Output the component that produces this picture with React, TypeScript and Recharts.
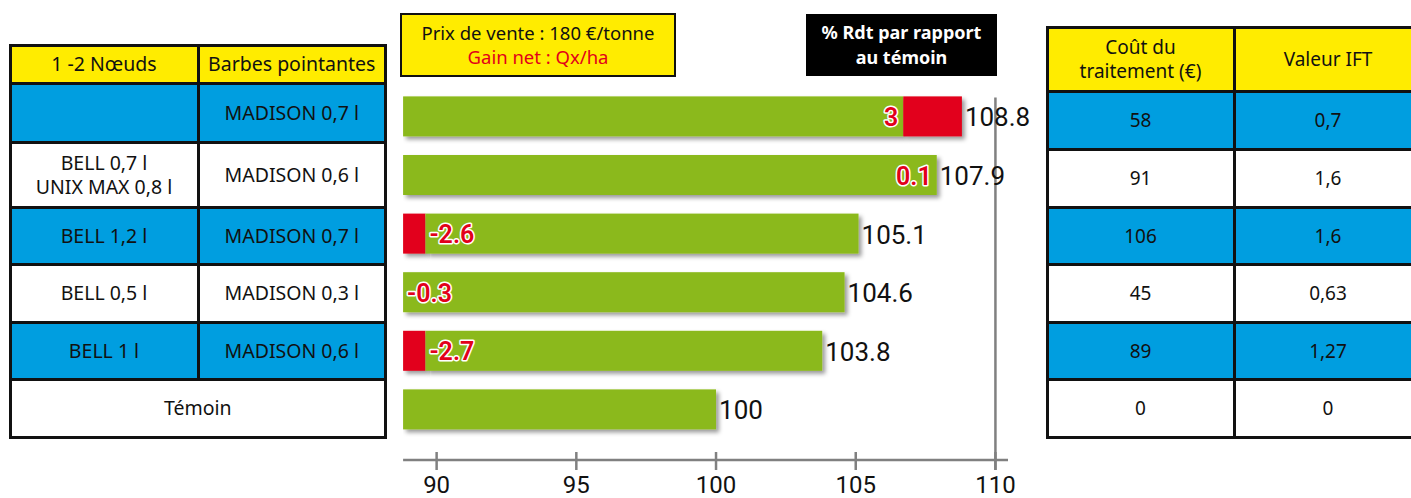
import React from "react";
import { BarChart, Bar, XAxis, YAxis, ReferenceLine, LabelList } from "recharts";

// Left table: treatments
const noeuds = ["", "BELL 0,7 l\nUNIX MAX 0,8 l", "BELL 1,2 l", "BELL 0,5 l", "BELL 1 l", "Témoin"];
const barbes = ["MADISON 0,7 l", "MADISON 0,6 l", "MADISON 0,7 l", "MADISON 0,3 l", "MADISON 0,6 l", ""];

// % yield vs control, net gain (Qx/ha), width of the red part (in % units)
const rdt = [108.8, 107.9, 105.1, 104.6, 103.8, 100];
const gainNet: (number | null)[] = [3, 0.1, -2.6, -0.3, -2.7, null];
const redWidth = [2.1, 0, 0.8, 0, 0.8, 0];
const barStart = 88.8;

// Right table
const cout = ["58", "91", "106", "45", "89", "0"];
const ift = ["0,7", "1,6", "1,6", "0,63", "1,27", "0"];

const xTicks = [90, 95, 100, 105, 110];

const GREEN = "#8bb91a";
const RED = "#e2001a";
const YELLOW = "#ffec00";
const BLUE = "#009ee0";
const AXIS_GRAY = "#808080";
const CHART_FONT = "'Liberation Sans Narrow', 'Roboto', sans-serif";
const TABLE_FONT = "'Noto Sans', 'Open Sans', sans-serif";

const chartData = rdt.map((v, i) => {
  const g = gainNet[i];
  const red = redWidth[i];
  return {
    name: `${noeuds[i]} ${barbes[i]}`.trim() || `row${i}`,
    pad: barStart,
    redLead: g !== null && g < 0 ? red : 0,
    green: v - barStart - red,
    redTail: g !== null && g > 0 ? red : 0,
    rdtLabel: String(v),
    gain: g,
  };
});

function ShadowRect(props: any) {
  const { x, y, width, height, fill } = props;
  if (!width || width <= 0) return null;
  return <rect x={x} y={y} width={width} height={height} fill={fill} filter="url(#barShadow)" />;
}

function AxisTick(props: any) {
  const { x, y, payload } = props;
  return (
    <g>
      <line x1={x} x2={x} y1={y - 8} y2={y + 10} stroke={AXIS_GRAY} strokeWidth={2.5} />
      <text x={x} y={y + 25} textAnchor="middle" dominantBaseline="central" fontSize={24} fontFamily={CHART_FONT} fill="#111">
        {payload.value}
      </text>
    </g>
  );
}

function ValueLabel(props: any) {
  const { x, y, width, height, value } = props;
  return (
    <text x={x + width + 3} y={y + height / 2 + 1} dominantBaseline="central" fontSize={26} fontFamily={CHART_FONT} fill="#111">
      {value}
    </text>
  );
}

function GainLabel(props: any) {
  const { x, y, width, height, index } = props;
  const g = chartData[index].gain;
  if (g === null || g === undefined) return null;
  const pos = g > 0;
  return (
    <text
      x={pos ? x + width - 5 : x + 4}
      y={y + height / 2 + 1}
      textAnchor={pos ? "end" : "start"}
      dominantBaseline="central"
      fontSize={25}
      fontWeight={600}
      fontFamily={CHART_FONT}
      fill={RED}
      stroke="#fff"
      strokeWidth={3}
      paintOrder="stroke"
      strokeLinejoin="round"
    >
      {String(g)}
    </text>
  );
}

type Cell = { x0: number; x1: number; y0: number; y1: number; text: string; bg: string };

function Grid({ cells, fontSize }: { cells: Cell[]; fontSize: number }) {
  return (
    <>
      {cells.map((c, i) => (
        <div
          key={i}
          style={{
            position: "absolute",
            left: c.x0 - 1.5,
            top: c.y0 - 1.5,
            width: c.x1 - c.x0 + 3,
            height: c.y1 - c.y0 + 3,
            background: "#111",
          }}
        />
      ))}
      {cells.map((c, i) => (
        <div
          key={"c" + i}
          style={{
            position: "absolute",
            left: c.x0 + 1.5,
            top: c.y0 + 1.5,
            width: c.x1 - c.x0 - 3,
            height: c.y1 - c.y0 - 3,
            background: c.bg,
            display: "flex",
            alignItems: "center",
            justifyContent: "center",
            textAlign: "center",
            whiteSpace: "pre-line",
            fontFamily: TABLE_FONT,
            fontSize,
            lineHeight: "24px",
            color: "#111",
          }}
        >
          {c.text}
        </div>
      ))}
    </>
  );
}

const rowY = [142, 207, 264.5, 322, 379, 437];

function buildLeftCells(): Cell[] {
  const xs = [10, 198, 385.5];
  const cells: Cell[] = [
    { x0: xs[0], x1: xs[1], y0: 45.5, y1: 83, text: "1 -2 Nœuds", bg: YELLOW },
    { x0: xs[1], x1: xs[2], y0: 45.5, y1: 83, text: "Barbes pointantes", bg: YELLOW },
  ];
  let top = 83;
  noeuds.forEach((n, i) => {
    const bg = i % 2 === 0 ? BLUE : "#fff";
    if (barbes[i] === "") {
      cells.push({ x0: xs[0], x1: xs[2], y0: top, y1: rowY[i], text: n, bg });
    } else {
      cells.push({ x0: xs[0], x1: xs[1], y0: top, y1: rowY[i], text: n, bg });
      cells.push({ x0: xs[1], x1: xs[2], y0: top, y1: rowY[i], text: barbes[i], bg });
    }
    top = rowY[i];
  });
  return cells;
}

function buildRightCells(): Cell[] {
  const xs = [1047, 1234, 1422];
  const rows = [149, 207, 264.5, 322, 379, 437];
  const cells: Cell[] = [
    { x0: xs[0], x1: xs[1], y0: 27, y1: 91, text: "Coût du\ntraitement (€)", bg: YELLOW },
    { x0: xs[1], x1: xs[2], y0: 27, y1: 91, text: "Valeur IFT", bg: YELLOW },
  ];
  let top = 91;
  cout.forEach((c, i) => {
    const bg = i % 2 === 0 ? BLUE : "#fff";
    cells.push({ x0: xs[0], x1: xs[1], y0: top, y1: rows[i], text: c, bg });
    cells.push({ x0: xs[1], x1: xs[2], y0: top, y1: rows[i], text: ift[i], bg });
    top = rows[i];
  });
  return cells;
}

export default function App() {
  return (
    <div style={{ position: "absolute", left: 0, top: 0, width: 1411, height: 498, overflow: "hidden", background: "#fff" }}>
      <svg width={0} height={0} style={{ position: "absolute" }}>
        <defs>
          <filter id="barShadow" x="-20%" y="-30%" width="140%" height="170%">
            <feDropShadow dx="3" dy="3" stdDeviation="2" floodColor="#000" floodOpacity="0.4" />
          </filter>
        </defs>
      </svg>

      <Grid cells={buildLeftCells()} fontSize={19.5} />
      <Grid cells={buildRightCells()} fontSize={19} />

      <div
        style={{
          position: "absolute",
          left: 400,
          top: 13,
          width: 276,
          height: 64,
          boxSizing: "border-box",
          border: "2.5px solid #111",
          background: YELLOW,
          display: "flex",
          flexDirection: "column",
          alignItems: "center",
          justifyContent: "center",
          fontFamily: TABLE_FONT,
          fontSize: 18.5,
          lineHeight: "24px",
        }}
      >
        <div style={{ color: "#111" }}>Prix de vente : 180 €/tonne</div>
        <div style={{ color: RED }}>Gain net : Qx/ha</div>
      </div>

      <div
        style={{
          position: "absolute",
          left: 806,
          top: 14,
          width: 191,
          height: 62,
          background: "#000",
          color: "#fff",
          display: "flex",
          flexDirection: "column",
          alignItems: "center",
          justifyContent: "center",
          fontFamily: TABLE_FONT,
          fontWeight: 700,
          fontSize: 18,
          lineHeight: "25px",
        }}
      >
        <div>% Rdt par rapport</div>
        <div>au témoin</div>
      </div>

      <div style={{ position: "absolute", left: 380, top: 0 }}>
        <BarChart
          width={660}
          height={498}
          data={chartData}
          layout="vertical"
          margin={{ top: 87.4, right: 32, bottom: 0, left: 23.1 }}
        >
          <XAxis
            type="number"
            domain={[barStart, 110.45]}
            allowDataOverflow
            ticks={xTicks}
            height={38}
            axisLine={{ stroke: AXIS_GRAY, strokeWidth: 2.5 }}
            tickLine={false}
            tickSize={0}
            tickMargin={0}
            tick={<AxisTick />}
            interval={0}
          />
          <YAxis type="category" dataKey="name" hide padding={{ top: 0, bottom: 21 }} />
          <Bar dataKey="pad" stackId="s" fill="none" barSize={40} isAnimationActive={false} />
          <Bar dataKey="redLead" stackId="s" fill={RED} barSize={40} shape={<ShadowRect />} isAnimationActive={false} />
          <Bar dataKey="green" stackId="s" fill={GREEN} barSize={40} shape={<ShadowRect />} isAnimationActive={false}>
            <LabelList dataKey="gain" content={<GainLabel />} />
          </Bar>
          <Bar dataKey="redTail" stackId="s" fill={RED} barSize={40} shape={<ShadowRect />} isAnimationActive={false}>
            <LabelList dataKey="rdtLabel" content={<ValueLabel />} />
          </Bar>
          <ReferenceLine
            x={110}
            stroke={AXIS_GRAY}
            strokeWidth={2.5}
            shape={(p: any) => (
              <line
                x1={p.x1}
                x2={p.x2}
                y1={Math.min(p.y1, p.y2) + 10}
                y2={Math.max(p.y1, p.y2) + 10}
                stroke={AXIS_GRAY}
                strokeWidth={2.5}
              />
            )}
          />
        </BarChart>
      </div>
    </div>
  );
}
